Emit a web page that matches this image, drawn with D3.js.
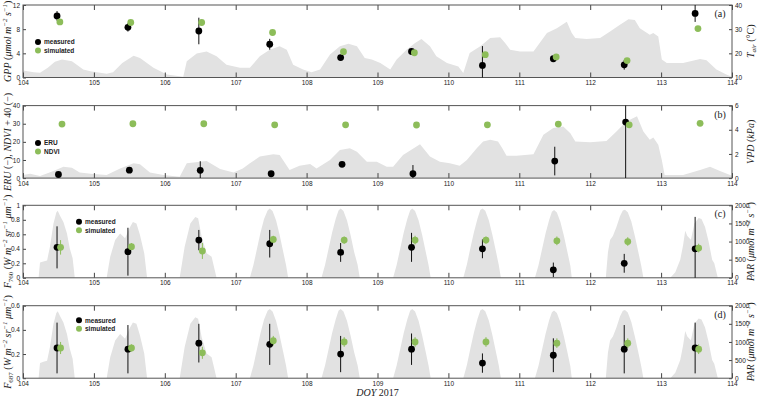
<!DOCTYPE html>
<html>
<head>
<meta charset="utf-8">
<script src="https://cdn.jsdelivr.net/npm/d3@7"></script>
<style>
	body { margin: 0; background: #fff; }
	svg text { fill: #222; }
</style>
</head>
<body>
<svg id="chart"></svg>
<script>
const width = 760;
const height = 396;

// sampling days (noon of each DOY)
const days = [104.5, 105.5, 106.5, 107.5, 108.5, 109.5, 110.5, 111.5, 112.5, 113.5];
const xTicks = [104, 105, 106, 107, 108, 109, 110, 111, 112, 113, 114];

// (a) GPP
const gppMeas = [10.2, 8.3, 7.7, 5.5, 3.3, 4.3, 2.0, 3.1, 2.1, 10.6];
const gppMeasErr = [0.8, 0.7, 2.2, 0.9, 0.3, 0.3, 3.2, 0.3, 0.8, 1.4];
const gppSim = [9.2, 9.1, 9.1, 7.45, 4.27, 4.1, 3.78, 3.4, 2.8, 8.1];

// (b) ERU and NDVI + 40
const eru = [2.0, 4.4, 4.3, 2.4, 7.6, 2.4, null, 9.4, 30.9, null];
const eruErr = [0.5, 0.5, 5, 0.5, 0.5, 4.8, null, 7.9, 40, null];
const ndvi40 = [29.8, 30.0, 30.0, 29.4, 29.4, 29.3, 29.4, 29.8, 29.4, 30.2];

// (c) F760
const f760Meas = [0.42, 0.36, 0.52, 0.47, 0.35, 0.42, 0.40, 0.11, 0.20, 0.40];
const f760MeasErr = [0.29, 0.33, 0.14, 0.19, 0.13, 0.2, 0.13, 0.1, 0.13, 0.44];
const f760Sim = [0.42, 0.43, 0.37, 0.53, 0.52, 0.52, 0.52, 0.51, 0.50, 0.41];
const f760SimErr = [0.1, 0.05, 0.11, 0.05, 0.05, 0.06, 0.05, 0.06, 0.06, 0.06];

// (d) F687
const f687Meas = [0.25, 0.24, 0.29, 0.28, 0.2, 0.24, 0.125, 0.19, 0.24, 0.25];
const f687MeasErr = [0.21, 0.2, 0.16, 0.17, 0.15, 0.13, 0.08, 0.14, 0.2, 0.21];
const f687Sim = [0.25, 0.25, 0.21, 0.31, 0.30, 0.30, 0.30, 0.29, 0.29, 0.24];
const f687SimErr = [0.05, 0.03, 0.05, 0.04, 0.04, 0.04, 0.04, 0.04, 0.04, 0.04];

// background traces [DOY, value]
const tair = [[104.00,12.9],[104.15,12.2],[104.24,12.0],[104.35,14.0],[104.45,16.5],[104.55,17.4],[104.69,16.7],[104.85,13.3],[104.95,12.6],[105.18,11.6],[105.27,12.2],[105.40,16.0],[105.56,19.0],[105.65,18.1],[105.84,14.0],[106.03,11.2],[106.21,10.5],[106.26,10.3],[106.31,16.7],[106.45,19.9],[106.59,20.8],[106.73,18.8],[106.87,15.3],[107.06,14.0],[107.20,14.0],[107.34,18.8],[107.48,21.5],[107.62,22.9],[107.72,21.5],[107.81,15.3],[107.95,13.3],[108.07,12.2],[108.19,13.3],[108.33,19.5],[108.47,22.9],[108.59,24.0],[108.71,22.9],[108.82,18.1],[108.92,17.4],[109.04,16.0],[109.18,13.3],[109.27,17.4],[109.41,21.5],[109.53,24.3],[109.62,25.9],[109.74,22.9],[109.83,18.8],[109.98,16.0],[110.14,14.6],[110.21,11.9],[110.30,20.1],[110.45,22.9],[110.59,26.3],[110.73,26.7],[110.80,24.3],[110.87,21.5],[111.01,20.8],[111.20,20.8],[111.39,28.4],[111.53,30.4],[111.67,33.1],[111.74,28.4],[111.79,26.3],[111.95,25.9],[112.14,26.3],[112.28,29.0],[112.42,31.8],[112.54,34.1],[112.63,33.8],[112.70,30.4],[112.84,27.7],[112.89,28.4],[112.96,27.0],[113.01,17.4],[113.08,16.0],[113.31,16.0],[113.55,17.7],[113.64,17.1],[113.78,13.3],[113.92,11.2],[114.00,10.3]];

const vpd = [[104.00,0.25],[104.10,0.36],[104.24,0.17],[104.43,0.58],[104.57,0.94],[104.69,0.86],[104.80,0.47],[104.99,0.33],[105.18,0.25],[105.37,0.80],[105.56,1.22],[105.65,1.14],[105.79,0.47],[105.98,0.25],[106.21,0.11],[106.31,1.22],[106.50,1.36],[106.59,1.42],[106.78,0.75],[106.97,0.47],[107.10,0.80],[107.20,1.22],[107.34,1.78],[107.53,1.97],[107.62,1.92],[107.76,0.67],[107.90,1.03],[108.05,1.17],[108.14,0.80],[108.33,1.50],[108.47,2.33],[108.61,2.47],[108.71,2.19],[108.85,1.36],[108.99,1.36],[109.13,0.94],[109.22,0.94],[109.36,1.92],[109.50,2.42],[109.60,2.81],[109.74,1.78],[109.88,1.36],[110.02,1.22],[110.16,1.03],[110.26,1.50],[110.40,2.47],[110.49,3.03],[110.59,3.17],[110.70,3.03],[110.76,2.47],[110.82,1.86],[110.96,1.86],[111.20,1.97],[111.34,3.58],[111.48,4.14],[111.62,4.28],[111.72,3.72],[111.79,3.03],[112.00,2.97],[112.23,3.08],[112.37,3.86],[112.51,4.69],[112.66,5.11],[112.75,3.86],[112.84,3.17],[112.89,3.36],[112.96,2.75],[113.01,1.50],[113.05,0.25],[113.31,0.25],[113.55,0.67],[113.69,0.94],[113.83,0.58],[114.00,0.19]];

const par = [[104.00,0],[104.22,0],[104.24,420],[104.30,460],[104.34,480],[104.38,860],[104.43,1500],[104.47,1800],[104.49,1850],[104.52,1720],[104.57,1540],[104.62,1220],[104.66,810],[104.70,540],[104.73,0],
	[105.18,0],[105.23,580],[105.30,1040],[105.37,1220],[105.44,1090],[105.51,1400],[105.55,1540],[105.60,1500],[105.65,1180],[105.71,680],[105.75,0],
	[106.21,0],[106.28,860],[106.36,1500],[106.43,1680],[106.47,1640],[106.52,1130],[106.59,680],[106.66,580],[106.73,0],
	[107.20,0],[107.25,350],[107.30,800],[107.35,1250],[107.40,1620],[107.45,1860],[107.48,1910],[107.52,1840],[107.57,1580],[107.62,1180],[107.67,720],[107.71,350],[107.74,0],
	[108.21,0],[108.26,350],[108.31,800],[108.36,1250],[108.41,1620],[108.45,1860],[108.48,1910],[108.52,1840],[108.57,1580],[108.62,1180],[108.67,720],[108.72,350],[108.75,0],
	[109.22,0],[109.27,350],[109.32,800],[109.37,1250],[109.42,1620],[109.46,1860],[109.49,1910],[109.53,1840],[109.58,1580],[109.63,1180],[109.68,720],[109.72,350],[109.75,0],
	[110.21,0],[110.26,360],[110.31,820],[110.36,1260],[110.41,1630],[110.45,1870],[110.48,1910],[110.52,1850],[110.57,1590],[110.62,1190],[110.67,730],[110.71,360],[110.74,0],
	[111.22,0],[111.27,340],[111.32,780],[111.37,1220],[111.42,1590],[111.46,1820],[111.49,1870],[111.53,1800],[111.58,1540],[111.63,1150],[111.68,700],[111.72,330],[111.74,0],
	[112.22,0],[112.25,700],[112.28,1040],[112.32,1150],[112.37,1400],[112.42,1700],[112.46,1860],[112.49,1880],[112.53,1810],[112.58,1550],[112.63,1150],[112.68,700],[112.72,330],[112.75,0],
	[113.13,0],[113.20,150],[113.27,500],[113.31,900],[113.34,1300],[113.37,1150],[113.42,1050],[113.47,1500],[113.53,1650],[113.57,1620],[113.62,1400],[113.67,1000],[113.72,500],[113.75,400],[113.80,0],[114.00,0]];

const green = '#8dbd5a';
const grey = '#e2e2e2';
const left = 23;
const right = 732;
const panelH = 72.5;
const serif = '"Liberation Serif", "Times New Roman", serif';
const sans = '"Liberation Sans", Arial, sans-serif';

const panels = [
	{ id: 'a', top: 5, yl: [0, 12], ylTicks: [0, 4, 8, 12], yr: [10, 40], yrTicks: [10, 20, 30, 40], trace: tair,
		meas: gppMeas, measErr: gppMeasErr, sim: gppSim, simErr: null, off: [-0.02, 0.02], legend: ['measured', 'simulated'], legPos: [38, 37],
		lLabel: [['GPP', 1], [' (', 0], ['μmol m', 1], ['−2', 1, 'sup'], [' s', 1], ['−1', 1, 'sup'], [')', 0]],
		rLabel: [['T', 1], ['air', 1, 'sub'], [' (°C)', 0]] },
	{ id: 'b', top: 105.6, yl: [0, 40], ylTicks: [0, 10, 20, 30, 40], yr: [0, 6], yrTicks: [0, 2, 4, 6], trace: vpd,
		meas: eru, measErr: eruErr, sim: ndvi40, simErr: null, off: [0, 0.05], legend: ['ERU', 'NDVI'], legPos: [38, 37.5],
		lLabel: [['ERU', 1], [' (−), ', 0], ['NDVI', 1], [' + 40 (−)', 0]],
		rLabel: [['VPD', 1], [' (', 0], ['kPa', 1], [')', 0]] },
	{ id: 'c', top: 205.3, yl: [0, 1], ylTicks: [0, 0.2, 0.4, 0.6, 0.8, 1], yr: [0, 2000], yrTicks: [0, 500, 1000, 1500, 2000], trace: par,
		meas: f760Meas, measErr: f760MeasErr, sim: f760Sim, simErr: f760SimErr, off: [-0.02, 0.03], legend: ['measured', 'simulated'], legPos: [79, 16.5],
		lLabel: [['F', 1], ['760', 0, 'sub'], [' (', 0], ['W m', 1], ['−2', 1, 'sup'], [' sr', 1], ['−1', 1, 'sup'], [' μm', 1], ['−1', 1, 'sup'], [')', 0]],
		rLabel: [['PAR', 1], [' (', 0], ['μmol m', 1], ['−2', 1, 'sup'], [' s', 1], ['−1', 1, 'sup'], [')', 0]] },
	{ id: 'd', top: 305.7, yl: [0, 0.6], ylTicks: [0, 0.2, 0.4, 0.6], yr: [0, 2000], yrTicks: [0, 500, 1000, 1500, 2000], trace: par,
		meas: f687Meas, measErr: f687MeasErr, sim: f687Sim, simErr: f687SimErr, off: [-0.02, 0.03], legend: ['measured', 'simulated'], legPos: [79, 14.5],
		lLabel: [['F', 1], ['687', 0, 'sub'], [' (', 0], ['W m', 1], ['−2', 1, 'sup'], [' sr', 1], ['−1', 1, 'sup'], [' μm', 1], ['−1', 1, 'sup'], [')', 0]],
		rLabel: [['PAR', 1], [' (', 0], ['μmol m', 1], ['−2', 1, 'sup'], [' s', 1], ['−1', 1, 'sup'], [')', 0]] }
];

const svg = d3.select('#chart')
	.attr('width', width)
	.attr('height', height)
	.attr('font-family', sans);

const x = d3.scaleLinear().domain([104, 114]).range([left, right]);

// math-style label built from tspans
const mathText = (sel, parts, size) => {
	let shift = 0;
	parts.forEach(p => {
		const t = sel.append('tspan').text(p[0])
			.attr('font-style', p[1] ? 'italic' : 'normal');
		let target = 0;
		if (p[2] === 'sup') target = -size * 0.38;
		if (p[2] === 'sub') target = size * 0.22;
		if (p[2]) t.attr('font-size', size * 0.7);
		t.attr('dy', target - shift);
		shift = target;
	});
};

panels.forEach(p => {
	const bottom = p.top + panelH;
	const yl = d3.scaleLinear().domain(p.yl).range([bottom, p.top]);
	const yr = d3.scaleLinear().domain(p.yr).range([bottom, p.top]);
	const g = svg.append('g');

	g.append('clipPath').attr('id', 'clip-' + p.id)
		.append('rect')
		.attr('x', left).attr('y', p.top)
		.attr('width', right - left).attr('height', panelH);

	const area = d3.area()
		.x(d => x(d[0]))
		.y0(bottom)
		.y1(d => yr(d[1]));
	g.append('path').datum(p.trace)
		.attr('d', area)
		.attr('fill', grey)
		.attr('clip-path', `url(#clip-${p.id})`);

	// axes
	const styleAxis = a => {
		a.select('.domain').remove();
		a.selectAll('.tick line').attr('stroke', '#444');
		a.selectAll('.tick text').attr('font-size', 6.5).attr('font-family', sans).attr('fill', '#333');
	};
	g.append('g').attr('transform', `translate(0,${bottom})`)
		.call(d3.axisBottom(x).tickValues(xTicks).tickSize(-5).tickPadding(3).tickFormat(d3.format('d')))
		.call(styleAxis);
	g.append('g').attr('transform', `translate(0,${p.top})`)
		.call(d3.axisTop(x).tickValues(xTicks).tickSize(-5).tickFormat(''))
		.call(styleAxis);
	g.append('g').attr('transform', `translate(${left},0)`)
		.call(d3.axisLeft(yl).tickValues(p.ylTicks).tickSize(-3).tickPadding(3).tickFormat(d3.format('~g')))
		.call(styleAxis);
	g.append('g').attr('transform', `translate(${right},0)`)
		.call(d3.axisRight(yr).tickValues(p.yrTicks).tickSize(-3).tickPadding(3).tickFormat(d3.format('d')))
		.call(styleAxis);

	g.append('rect')
		.attr('x', left).attr('y', p.top)
		.attr('width', right - left).attr('height', panelH)
		.attr('fill', 'none')
		.attr('stroke', '#555')
		.attr('stroke-width', 1);

	const marks = g.append('g').attr('clip-path', `url(#clip-${p.id})`);
	const measIdx = days.map((d, i) => i).filter(i => p.meas[i] !== null);

	// error bars
	marks.selectAll('line.em').data(measIdx).enter()
		.append('line')
			.attr('stroke', '#111')
			.attr('stroke-width', 1)
			.attr('x1', i => x(days[i] + p.off[0])).attr('x2', i => x(days[i] + p.off[0]))
			.attr('y1', i => yl(p.meas[i] - p.measErr[i]))
			.attr('y2', i => yl(p.meas[i] + p.measErr[i]));
	if (p.simErr) {
		marks.selectAll('line.es').data(days.map((d, i) => i)).enter()
			.append('line')
				.attr('stroke', green)
				.attr('stroke-width', 1)
				.attr('x1', i => x(days[i] + p.off[1])).attr('x2', i => x(days[i] + p.off[1]))
				.attr('y1', i => yl(p.sim[i] - p.simErr[i]))
				.attr('y2', i => yl(p.sim[i] + p.simErr[i]));
	}

	marks.selectAll('circle.m').data(measIdx).enter()
		.append('circle')
			.attr('cx', i => x(days[i] + p.off[0]))
			.attr('cy', i => yl(p.meas[i]))
			.attr('r', 3.4)
			.attr('fill', '#000');
	marks.selectAll('circle.s').data(days.map((d, i) => i)).enter()
		.append('circle')
			.attr('cx', i => x(days[i] + p.off[1]))
			.attr('cy', i => yl(p.sim[i]))
			.attr('r', 3.4)
			.attr('fill', green);

	// legend
	const leg = g.append('g').attr('transform', `translate(${p.legPos[0]},${p.top + p.legPos[1]})`);
	[['#000', p.legend[0]], [green, p.legend[1]]].forEach((e, k) => {
		leg.append('circle').attr('cx', 0).attr('cy', k * 8.5).attr('r', 3).attr('fill', e[0]);
		leg.append('text').attr('x', 6).attr('y', k * 8.5 + 2.3)
			.attr('font-size', 6.5).attr('font-weight', 'bold').attr('fill', '#222')
			.text(e[1]);
	});

	// panel tag
	g.append('text')
		.attr('x', 720).attr('y', p.top + 12)
		.attr('text-anchor', 'middle')
		.attr('font-family', serif)
		.attr('font-size', 10)
		.text(`(${p.id})`);

	const cy = p.top + panelH / 2;
	const lt = g.append('text')
		.attr('transform', `translate(11,${cy}) rotate(-90)`)
		.attr('text-anchor', 'middle')
		.attr('font-family', serif)
		.attr('font-size', 10);
	mathText(lt, p.lLabel, 10);
	const rt = g.append('text')
		.attr('transform', `translate(754,${cy}) rotate(-90)`)
		.attr('text-anchor', 'middle')
		.attr('font-family', serif)
		.attr('font-size', 10);
	mathText(rt, p.rLabel, 10);
});

const xl = svg.append('text')
	.attr('x', (left + right) / 2)
	.attr('y', 395.5)
	.attr('text-anchor', 'middle')
	.attr('font-family', serif)
	.attr('font-size', 10);
mathText(xl, [['DOY', 1], [' 2017', 0]], 10);
</script>
</body>
</html>
